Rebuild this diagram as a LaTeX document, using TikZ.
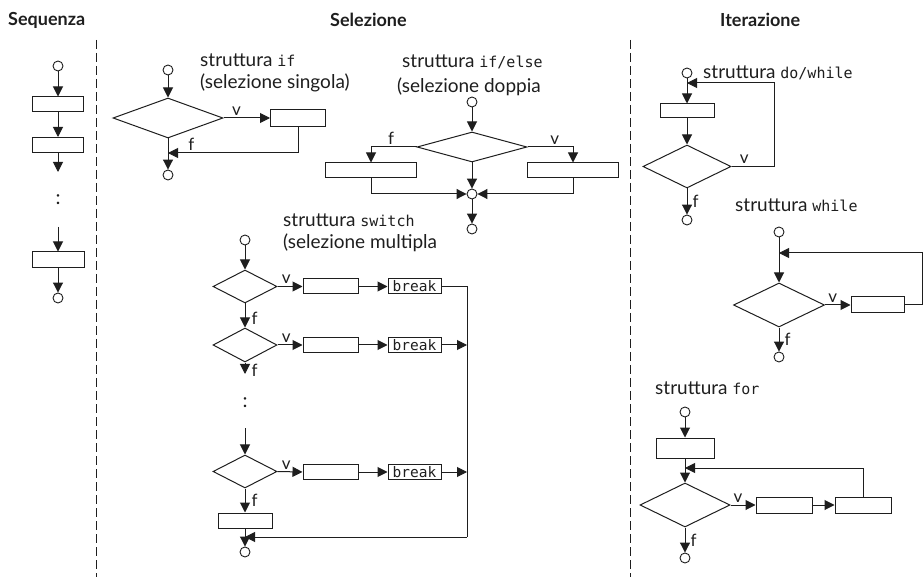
\documentclass[tikz,border=0pt]{standalone}
\usepackage{fontspec}
\setmainfont{Lato}
\setmonofont{DejaVu Sans Mono}
\usetikzlibrary{arrows.meta,shapes.geometric}
\definecolor{ink}{HTML}{1E1E1E}
\tikzset{
  flow/.style={draw=ink, line width=1pt},
  arr/.style={flow, -{Triangle[length=10pt,width=10pt]}},
  box/.style={draw=ink, line width=1pt, rectangle, inner sep=0pt, minimum height=15},
  cond/.style={draw=ink, line width=1pt, diamond, inner sep=0pt},
  term/.style={draw=ink, line width=0.9pt, circle, inner sep=0pt, minimum size=10},
  head/.style={font=\fontsize{18}{20}\selectfont\bfseries, anchor=west, inner sep=0pt, text=ink},
  title/.style={font=\fontsize{19}{21}\selectfont, anchor=west, inner sep=0pt, text=ink},
  lbl/.style={font=\fontsize{17}{19}\selectfont, inner sep=2pt, text=ink},
  brk/.style={box, font=\fontsize{14.5}{16}\ttfamily, text=ink, inner xsep=2pt},
  dots/.style={font=\fontsize{20}{22}\selectfont, inner sep=0pt, text=ink},
  sep/.style={draw=ink, line width=1pt, dash pattern=on 9pt off 4pt}
}
\newcommand{\kw}[1]{{\fontsize{15}{17}\ttfamily #1}}
\begin{document}
\begin{tikzpicture}[x=1pt,y=-1pt]
\useasboundingbox (0,0) rectangle (924,577);

% column headers and separators
\node[head] (hseq) at (8,20) {Sequenza};
\node[head] (hsel) at (330,20) {Selezione};
\node[head] (hit) at (720,20) {Iterazione};
\coordinate (sepAt) at (96,40);  \coordinate (sepAb) at (96,577);
\coordinate (sepBt) at (630,40); \coordinate (sepBb) at (630,577);
\draw[sep] (sepAt) -- (sepAb);
\draw[sep] (sepBt) -- (sepBb);

% ---- sequence ----
\node[term] (s0) at (58,66) {};
\node[box, minimum width=51] (s1) at (58,104.5) {};
\node[box, minimum width=51] (s2) at (58,145) {};
\coordinate (s2e) at (58,172);
\node[dots] (sdots) at (58,200) {:};
\coordinate (s3s) at (58,227);
\node[box, minimum width=52, minimum height=16] (s3) at (58,260) {};
\node[term] (s4) at (58,298) {};
\draw[arr] (s0) -- (s1);
\draw[arr] (s1) -- (s2);
\draw[arr] (s2) -- (s2e);
\draw[arr] (s3s) -- (s3);
\draw[arr] (s3) -- (s4);

% ---- if ----
\node[title] (tif1) at (200,60) {struttura \kw{if}};
\node[title] (tif2) at (200,83) {(selezione singola)};
\node[term] (i0) at (168,70) {};
\node[cond, minimum width=110, minimum height=40] (id) at (168,118) {};
\node[box, minimum width=55, minimum height=17] (ib) at (298,118) {};
\coordinate (ij) at (168,153);
\node[term] (i1) at (168,175) {};
\draw[arr] (i0) -- (id);
\draw[arr] (id.east) -- node[lbl, above, pos=0.28] {v} (ib.west);
\draw[arr] (ib.south) |- node[lbl, above, pos=0.91] {f} (ij);
\draw[arr] (id) -- (i1);

% ---- if/else ----
\node[title] (tie1) at (402,62) {struttura \kw{if/else}};
\node[title] (tie2) at (397,87) {(selezione doppia};
\node[term] (e0) at (472,102) {};
\node[cond, minimum width=110, minimum height=30] (ed) at (472,147) {};
\node[box, minimum width=91] (el) at (371,170.5) {};
\node[box, minimum width=91] (er) at (573,170.5) {};
\node[term] (em) at (472,194) {};
\node[term] (e1) at (472,229) {};
\draw[arr] (e0) -- (ed);
\draw[arr] (ed.west) -| node[lbl, above, pos=0.28] {f} (el.north);
\draw[arr] (ed.east) -| node[lbl, above, pos=0.3] {v} (er.north);
\draw[arr] (ed) -- (em);
\draw[arr] (el.south) |- (em.west);
\draw[arr] (er.south) |- (em.east);
\draw[arr] (em) -- (e1);

% ---- switch ----
\node[title] (tsw1) at (283,220) {struttura \kw{switch}};
\node[title] (tsw2) at (283,243) {(selezione multipla};
\node[term] (w0) at (245,240) {};
\node[cond, minimum width=64, minimum height=33] (w1) at (245,286.5) {};
\node[box, minimum width=55] (w1a) at (330.5,286.5) {};
\node[brk, minimum width=53] (w1b) at (414.5,286.5) {break};
\node[cond, minimum width=64, minimum height=34] (w2) at (245,345) {};
\node[box, minimum width=55] (w2a) at (330.5,345) {};
\node[brk, minimum width=53] (w2b) at (414.5,345) {break};
\coordinate (w2f) at (245,374);
\node[dots] (wdots) at (245,403) {:};
\coordinate (w3s) at (245,428);
\node[cond, minimum width=64, minimum height=33] (w3) at (245,471.5) {};
\node[box, minimum width=55] (w3a) at (330.5,472) {};
\node[brk, minimum width=53] (w3b) at (414.5,472) {break};
\node[box, minimum width=54] (w4) at (245,520.5) {};
\node[term] (w5) at (245,552) {};
\coordinate (wbus) at (467,537);
\coordinate (wjoin) at (245,537);
\draw[arr] (w0) -- (w1);
\draw[arr] (w1.east) -- node[lbl, above, pos=0.35] {v} (w1a.west);
\draw[arr] (w1a) -- (w1b);
\draw[flow] (w1b.east) -| (wbus);
\draw[arr] (wbus) -- (wjoin);
\draw[arr] (w1) -- node[lbl, right, pos=0.6, xshift=4pt] {f} (w2);
\draw[arr] (w2.east) -- node[lbl, above, pos=0.35] {v} (w2a.west);
\draw[arr] (w2a) -- (w2b);
\draw[arr] (w2b.east) -- (w2b.east -| wbus);
\draw[arr] (w2) -- node[lbl, right, pos=0.7, xshift=4pt] {f} (w2f);
\draw[arr] (w3s) -- (w3);
\draw[arr] (w3.east) -- node[lbl, above, pos=0.35] {v} (w3a.west);
\draw[arr] (w3a) -- (w3b);
\draw[arr] (w3b.east) -- (w3b.east -| wbus);
\draw[arr] (w3) -- node[lbl, right, pos=0.5, xshift=4pt] {f} (w4);
\draw[arr] (w4) -- (w5);

% ---- do/while ----
\node[title] (tdw) at (703,73) {struttura \kw{do/while}};
\node[term] (d0) at (687,73) {};
\node[box, minimum width=54, minimum height=14] (db) at (687,111) {};
\node[cond, minimum width=88, minimum height=43] (dd) at (687,166.5) {};
\node[term] (d1) at (687,220) {};
\coordinate (dcorner) at (774,83);
\coordinate (dtop) at (687,83);
\draw[arr] (d0) -- (db);
\draw[arr] (db) -- (dd);
\draw[arr] (dd.east) -| node[lbl, above, pos=0.15] {v} (dcorner) -- (dtop);
\draw[arr] (dd) -- node[lbl, right, pos=0.5, xshift=3pt] {f} (d1);

% ---- while ----
\node[title] (twh) at (735,205) {struttura \kw{while}};
\node[term] (h0) at (779,232) {};
\node[cond, minimum width=91, minimum height=44] (hd) at (779,305) {};
\node[box, minimum width=53, minimum height=16] (hb) at (877.5,305) {};
\node[term] (h1) at (779,357) {};
\coordinate (hcorner) at (922,253);
\coordinate (htop) at (779,253);
\draw[arr] (h0) -- (hd);
\draw[arr] (hd.east) -- node[lbl, above, pos=0.3] {v} (hb.west);
\draw[arr] (hb.east) -| (hcorner) -- (htop);
\draw[arr] (hd) -- node[lbl, right, pos=0.5, xshift=3pt] {f} (h1);

% ---- for ----
\node[title] (tfor) at (655,388) {struttura \kw{for}};
\node[term] (f0) at (685,412) {};
\node[box, minimum width=58, minimum height=20] (fb) at (685,448) {};
\node[cond, minimum width=90, minimum height=44] (fd) at (685,505) {};
\node[box, minimum width=56, minimum height=16] (f2) at (784,505) {};
\node[box, minimum width=56, minimum height=16] (f3) at (863,505) {};
\node[term] (f1) at (685,558) {};
\coordinate (ftop) at (685,468);
\draw[arr] (f0) -- (fb);
\draw[arr] (fb) -- (fd);
\draw[arr] (fd.east) -- node[lbl, above, pos=0.3] {v} (f2.west);
\draw[arr] (f2) -- (f3);
\draw[arr] (f3.north) |- (ftop);
\draw[arr] (fd) -- node[lbl, right, pos=0.5, xshift=3pt] {f} (f1);
\end{tikzpicture}
\end{document}
